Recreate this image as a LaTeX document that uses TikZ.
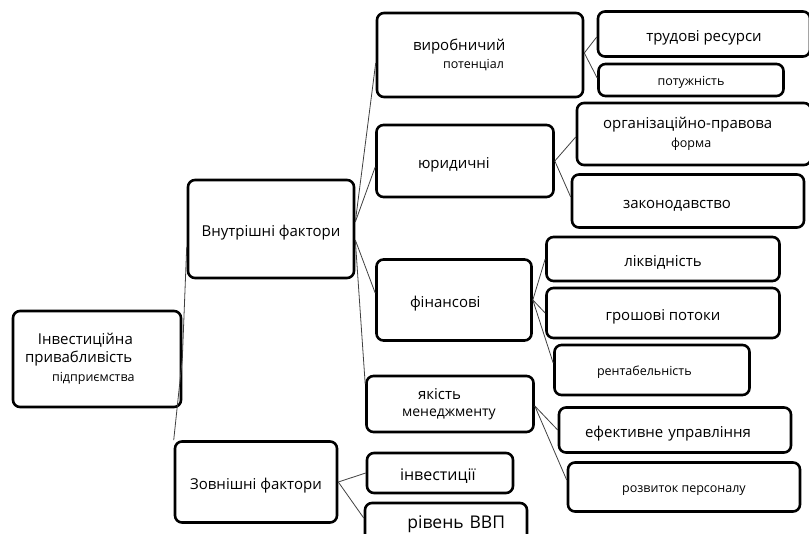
\documentclass[tikz,border=0pt]{standalone}
\usepackage{fontspec}
\setmainfont{Open Sans}
\newcommand{\smtxt}[1]{{\fontsize{12.5}{15}\selectfont #1}}

\begin{document}
\begin{tikzpicture}[x=1pt, y=-1pt,
    box/.style={draw=black, line width=2.6pt, rounded corners=7pt, inner sep=0pt,
      font=\fontsize{15}{17.5}\selectfont},
    one/.style={text height=15pt, text depth=0pt},
    link/.style={draw=black!75, line width=0.8pt}]
  \useasboundingbox (0,0) rectangle (809,534);

  % left column
  \node[box, minimum width=168pt, minimum height=96pt, text width=144pt, align=left] (root) at (97,359)
    {\hspace*{13pt}Інвестиційна\\привабливість\\[2pt]\hspace*{27pt}\smtxt{підприємства}};
  \node[box, one, minimum width=166pt, minimum height=98pt] (vnutr) at (271,229) {Внутрішні фактори};
  \node[box, one, minimum width=162pt, minimum height=81pt] (zovn) at (256,482) {Зовнішні фактори};

  % middle column
  \node[box, minimum width=206pt, minimum height=84pt, text width=134pt, align=left] (vyrob) at (480,55)
    {виробничий\\[1pt]\hspace*{30pt}\smtxt{потенціал}};
  \node[box, one, minimum width=177pt, minimum height=72pt, text width=94pt, align=left] (yuryd) at (465,161) {юридичні};
  \node[box, one, minimum width=155pt, minimum height=81pt, text width=88pt, align=left] (fin) at (454,300) {фінансові};
  \node[box, minimum width=167pt, minimum height=56pt, text width=96pt, align=left] (yakist) at (450,404)
    {\hspace*{16pt}якість\\{\fontsize{14}{17.5}\selectfont менеджменту}};
  \node[box, one, minimum width=146pt, minimum height=40pt, text width=80pt, align=left,
    font=\fontsize{16}{18}\selectfont] (invest) at (440,473) {інвестиції};
  \node[box, one, minimum width=162pt, minimum height=38pt, text width=118pt, align=right,
    font=\fontsize{17.5}{20}\selectfont, text height=13pt] (vvp) at (446,522) {рівень ВВП};

  % right column
  \node[box, one, minimum width=212pt, minimum height=45pt] (trud) at (704,34) {трудові ресурси};
  \node[box, one, minimum width=185pt, minimum height=32pt, text height=12pt] (potuzh) at (691,80) {\smtxt{потужність}};
  \node[box, minimum width=234pt, minimum height=62pt, text width=182pt, align=left] (org) at (694,134)
    {організаційно-правова\\[1pt]\hspace*{68pt}\smtxt{форма}};
  \node[box, one, minimum width=232pt, minimum height=53pt, text width=130pt, align=left] (zakon) at (688,201) {законодавство};
  \node[box, one, minimum width=233pt, minimum height=44pt] (likv) at (663,259) {ліквідність};
  \node[box, one, minimum width=233pt, minimum height=50pt] (groshi) at (663,313) {грошові потоки};
  \node[box, one, minimum width=195pt, minimum height=50pt, text width=110pt, align=left, text height=12pt]
    (rentab) at (652,370) {\smtxt{рентабельність}};
  \node[box, one, minimum width=232pt, minimum height=45pt, text width=180pt, align=left] (efekt) at (675,430)
    {ефективне управління};
  \node[box, one, minimum width=232pt, minimum height=49pt, text height=12pt] (rozv) at (684,487)
    {\smtxt{розвиток персоналу}};

  % connectors
  \draw[link] (root.east) -- ([yshift=-18pt]vnutr.west);
  \draw[link] (root.east) -- (zovn.north west);
  \draw[link] ([yshift=7pt]vnutr.east) -- ([yshift=-8pt]vyrob.west);
  \draw[link] ([yshift=7pt]vnutr.east) -- ([yshift=-6pt]yuryd.west);
  \draw[link] ([yshift=-11pt]vnutr.east) -- ([yshift=7pt]fin.west);
  \draw[link] ([yshift=-11pt]vnutr.east) -- ([yshift=20pt]yakist.west);
  \draw[link] ([yshift=2pt]vyrob.east) -- ([yshift=-3pt]trud.west);
  \draw[link] ([yshift=2pt]vyrob.east) -- ([yshift=2pt]potuzh.west);
  \draw[link] (yuryd.east) -- ([yshift=-3pt]org.west);
  \draw[link] (yuryd.east) -- ([yshift=4pt]zakon.west);
  \foreach \src/\dst in {fin/likv, fin/groshi, zovn/invest}
    \draw[link] (\src.east) -- (\dst.west);
  \draw[link] (fin.east) -- ([yshift=7pt]rentab.west);
  \draw[link] ([yshift=-2pt]yakist.east) -- (efekt.west);
  \draw[link] ([yshift=-2pt]yakist.east) -- ([yshift=7pt]rozv.west);
  \draw[link] (zovn.east) -- ([yshift=4pt]vvp.west);
\end{tikzpicture}
\end{document}
